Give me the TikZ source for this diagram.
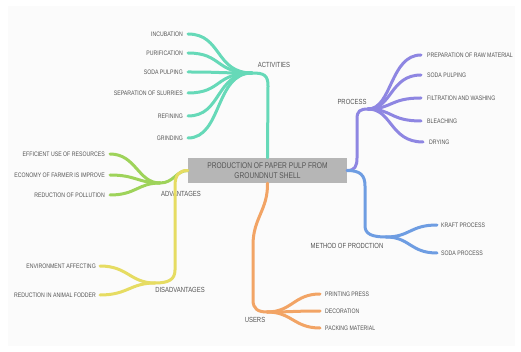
\documentclass[tikz,border=0pt]{standalone}
\usepackage{fontspec}
\setmainfont[FakeStretch=0.8]{Liberation Sans}
\usepackage{tikz}

\definecolor{actcol}{HTML}{66D9B8}
\definecolor{proccol}{HTML}{8E86E2}
\definecolor{methcol}{HTML}{6E9DE2}
\definecolor{usercol}{HTML}{F2A465}
\definecolor{advcol}{HTML}{9ED35A}
\definecolor{disadvcol}{HTML}{E6DC62}
\definecolor{txtcol}{HTML}{555555}

\tikzset{
    rootbox/.style={rectangle, fill=gray!57, text=txtcol, minimum width=159pt, minimum height=25pt, align=center, inner sep=0pt, font=\fontsize{8.3}{10}\selectfont},
    branchlabel/.style={text=txtcol, inner sep=0pt, font=\fontsize{7.4}{8}\selectfont},
    leafleft/.style={text=txtcol, inner sep=0pt, anchor=east, font=\fontsize{6.5}{7}\selectfont},
    leafright/.style={text=txtcol, inner sep=0pt, anchor=west, font=\fontsize{6.5}{7}\selectfont},
    limb/.style={line width=3pt, line cap=round}
}

\begin{document}
\begin{tikzpicture}[x=1pt, y=-1pt]
        \useasboundingbox (0,0) rectangle (521,352);
        \fill[black!1.5] (8,6) rectangle (515,346);

        % Root
        \node[rootbox] (root) at (267.5,170.5) {PRODUCTION OF PAPER PULP FROM\\GROUNDNUT SHELL};

        % Hubs
        \coordinate (acthub) at (252,73);
        \coordinate (prochub) at (368,109);
        \coordinate (methhub) at (386,237);
        \coordinate (userhub) at (267,312);
        \coordinate (advhub) at (160,183);
        \coordinate (disadvhub) at (155,283);

        % Branch labels
        \node[branchlabel] (activities) at (274,65) {ACTIVITIES};
        \node[branchlabel] (process) at (352,102) {PROCESS};
        \node[branchlabel] (method) at (347,246) {METHOD OF PRODCTION};
        \node[branchlabel] (users) at (255,320) {USERS};
        \node[branchlabel] (advantages) at (181,194) {ADVANTAGES};
        \node[branchlabel] (disadvantages) at (180,290) {DISADVANTAGES};

        % Leaves
        \node[leafleft] (incubation) at (183,34) {INCUBATION};
        \node[leafleft] (purification) at (183,53) {PURIFICATION};
        \node[leafleft] (sodapulpa) at (183,72) {SODA PULPING};
        \node[leafleft] (separation) at (183,93) {SEPARATION OF SLURRIES};
        \node[leafleft] (refining) at (183,116) {REFINING};
        \node[leafleft] (grinding) at (183,138) {GRINDING};

        \node[leafright] (rawmat) at (427,55) {PREPARATION OF RAW MATERIAL};
        \node[leafright] (sodapulpb) at (427,75) {SODA PULPING};
        \node[leafright] (filtration) at (427,98) {FILTRATION AND WASHING};
        \node[leafright] (bleaching) at (427,121) {BLEACHING};
        \node[leafright] (drying) at (429,142) {DRYING};

        \node[leafright] (kraft) at (441,225) {KRAFT PROCESS};
        \node[leafright] (sodaproc) at (441,253) {SODA PROCESS};

        \node[leafright] (printing) at (325,294) {PRINTING PRESS};
        \node[leafright] (decoration) at (325,311) {DECORATION};
        \node[leafright] (packing) at (325,328) {PACKING MATERIAL};

        \node[leafleft] (efficient) at (105,154) {EFFICIENT USE OF RESOURCES};
        \node[leafleft] (economy) at (105,175) {ECONOMY OF FARMER IS IMPROVE};
        \node[leafleft] (pollution) at (105,195) {REDUCTION OF POLLUTION};

        \node[leafleft] (environment) at (96,266) {ENVIRONMENT AFFECTING};
        \node[leafleft] (fodder) at (96,295) {REDUCTION IN ANIMAL FODDER};

        % Trunks
        \draw[limb, actcol] (root.north) -- (268,86) .. controls (268,75) and (264,73) .. (acthub);
        \draw[limb, proccol] (root.east) .. controls (355,170.5) and (357,166) .. (357,158) -- (357,119) .. controls (357,111) and (360,109) .. (prochub);
        \draw[limb, methcol] (root.east) .. controls (360,170.5) and (365,175) .. (365,186) -- (365,226) .. controls (365,234) and (372,237) .. (methhub);
        \draw[limb, usercol] (root.south) .. controls (268,210) and (253,218) .. (253,245) -- (253,300) .. controls (253,309) and (258,312) .. (userhub);
        \draw[limb, advcol] (root.west) .. controls (176,170.5) and (174,183) .. (advhub);
        \draw[limb, disadvcol] (root.west) .. controls (179,170.5) and (175,175) .. (175,186) -- (175,270) .. controls (175,280) and (168,283) .. (disadvhub);

        % Branches
        \foreach \leaf in {incubation, purification, sodapulpa, separation, refining, grinding}
            \draw[limb, actcol] (acthub) .. controls (215,73) and (222,0|-\leaf.west) .. ([xshift=5pt]\leaf.east);
        \foreach \leaf in {rawmat, sodapulpb, filtration, bleaching, drying}
            \draw[limb, proccol] (prochub) .. controls (392,109) and (390,0|-\leaf.west) .. ([xshift=-6pt]\leaf.west);
        \foreach \leaf in {kraft, sodaproc}
            \draw[limb, methcol] (methhub) .. controls (410,237) and (410,0|-\leaf.west) .. ([xshift=-4pt]\leaf.west);
        \foreach \leaf in {printing, decoration, packing}
            \draw[limb, usercol] (userhub) .. controls (292,312) and (294,0|-\leaf.west) .. ([xshift=-5pt]\leaf.west);
        \foreach \leaf in {efficient, economy, pollution}
            \draw[limb, advcol] (advhub) .. controls (138,183) and (136,0|-\leaf.east) .. ([xshift=5pt]\leaf.east);
        \foreach \leaf in {environment, fodder}
            \draw[limb, disadvcol] (disadvhub) .. controls (130,283) and (128,0|-\leaf.east) .. ([xshift=4pt]\leaf.east);
    \end{tikzpicture}
\end{document}
